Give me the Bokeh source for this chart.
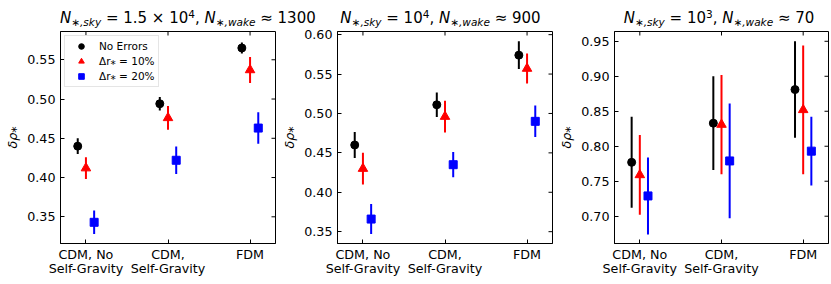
import numpy as np
from bokeh.plotting import figure
from bokeh.layouts import row, column
from bokeh.models import (Range1d, FixedTicker, Legend, LegendItem, Div,
                          ColumnDataSource, PrintfTickFormatter)
from bokeh.embed import file_html
from bokeh.resources import INLINE

# ---------------- data ----------------
categories = ["CDM, No\nSelf-Gravity", "CDM,\nSelf-Gravity", "FDM"]
cat_pos = [0, 1, 2]
series_names = ["No Errors", "Δr⁎ = 10%", "Δr⁎ = 20%"]
series_offsets = [-0.1, 0.0, 0.1]
series_colors = ["#000000", "#ff0000", "#0000ff"]
series_markers = ["circle", "triangle", "square"]
series_sizes = [8, 9.5, 8]

# panel 1: N_sky = 1.5e4, N_wake ~ 1300
p1_none = [0.440, 0.494, 0.565]
p1_none_err = [0.010, 0.0085, 0.007]
p1_r10 = [0.412, 0.476, 0.537]
p1_r10_err = [0.014, 0.015, 0.0165]
p1_r20 = [0.343, 0.422, 0.463]
p1_r20_err = [0.015, 0.0175, 0.020]

# panel 2: N_sky = 1e4, N_wake ~ 900
p2_none = [0.460, 0.511, 0.574]
p2_none_err = [0.0165, 0.0155, 0.0175]
p2_r10 = [0.430, 0.496, 0.557]
p2_r10_err = [0.020, 0.020, 0.019]
p2_r20 = [0.366, 0.435, 0.490]
p2_r20_err = [0.019, 0.016, 0.020]

# panel 3: N_sky = 1e3, N_wake ~ 70
p3_none = [0.777, 0.833, 0.881]
p3_none_err = [0.065, 0.067, 0.069]
p3_r10 = [0.759, 0.831, 0.852]
p3_r10_err = [0.057, 0.071, 0.092]
p3_r20 = [0.729, 0.779, 0.793]
p3_r20_err = [0.055, 0.082, 0.049]

y_ranges = [(0.316, 0.586), (0.335, 0.604), (0.661, 0.964)]
y_ticks = [[0.35, 0.40, 0.45, 0.50, 0.55],
           [0.35, 0.40, 0.45, 0.50, 0.55, 0.60],
           [0.70, 0.75, 0.80, 0.85, 0.90, 0.95]]
sky_mantissa = ["1.5 × ", "", ""]
sky_exponent = ["4", "4", "3"]
wake_values = ["1300", "900", "70"]
y_label = "δρ⁎"

X_RANGE = (-0.31, 2.31)
FONT = "DejaVu Sans"
FRAME_H = 212
TITLE_H = 25
TOP_B = 6
BOTTOM_B = 36


def make_title(i, left, right, fw):
    W = left + fw + right
    sub = "font-size:70%;font-style:italic;vertical-align:-3px;line-height:0;"
    sup = "font-size:70%;vertical-align:5px;line-height:0;"
    html = (
        f'<div style="margin-left:{left}px;width:{fw}px;text-align:center;'
        f'font-family:\'{FONT}\';font-size:15px;line-height:18px;padding-top:9px;'
        f'white-space:nowrap;color:#000;">'
        f'<i>N</i><span style="{sub}">∗,sky</span> = {sky_mantissa[i]}10'
        f'<span style="{sup}">{sky_exponent[i]}</span>, '
        f'<i>N</i><span style="{sub}">∗,wake</span> ≈ {wake_values[i]}</div>'
    )
    return Div(text=html, width=W, height=TITLE_H, margin=0,
               styles={"overflow": "visible"})


def make_panel(i, vals, errs, left, right, fw, with_legend):
    yr = y_ranges[i]
    p = figure(frame_width=fw, frame_height=FRAME_H,
               x_range=Range1d(*X_RANGE), y_range=Range1d(*yr),
               output_backend="svg", toolbar_location=None,
               min_border_left=left, min_border_right=right,
               min_border_top=TOP_B, min_border_bottom=BOTTOM_B)
    p.xgrid.visible = False
    p.ygrid.visible = False
    p.outline_line_color = "black"
    p.outline_line_width = 1
    p.outline_line_alpha = 1
    p.background_fill_color = "white"
    p.border_fill_color = None

    xa = p.xaxis[0]
    xa.ticker = FixedTicker(ticks=cat_pos)
    xa.major_label_overrides = {c: lab for c, lab in zip(cat_pos, categories)}
    ya = p.yaxis[0]
    ya.ticker = FixedTicker(ticks=y_ticks[i])
    ya.formatter = PrintfTickFormatter(format="%.2f")
    for ax in (xa, ya):
        ax.major_tick_in = 4
        ax.major_tick_out = 0
        ax.minor_tick_line_color = None
        ax.axis_line_color = "black"
        ax.major_tick_line_color = "black"
        ax.major_label_text_font = FONT
        ax.major_label_text_font_size = "12.7px"
        ax.major_label_text_color = "black"
    xa.major_label_standoff = 3
    xa.major_label_text_line_height = 0.95
    ya.major_label_standoff = 5
    ya.axis_label = y_label
    ya.axis_label_text_font = FONT
    ya.axis_label_text_font_size = "12.7px"
    ya.axis_label_text_font_style = "italic"
    ya.axis_label_text_color = "black"
    ya.axis_label_standoff = 4

    # mirrored inward tick marks on top and right (half of each dash is clipped by the frame)
    p.scatter(x=cat_pos, y=[yr[1]] * len(cat_pos), marker="dash", angle=np.pi / 2,
              size=8, line_color="black", line_width=1)
    p.scatter(x=[X_RANGE[1]] * len(y_ticks[i]), y=y_ticks[i], marker="dash",
              size=8, line_color="black", line_width=1)

    rends = []
    bars = []
    for k in range(3):
        x = np.array(cat_pos, dtype=float) + series_offsets[k]
        y = np.array(vals[k])
        e = np.array(errs[k])
        src = ColumnDataSource(dict(x=x, y=y, lo=y - e, hi=y + e))
        p.segment(x0="x", y0="lo", x1="x", y1="hi", source=src,
                  line_color=series_colors[k], line_width=2)
        r = p.scatter(x="x", y="y", source=src, marker=series_markers[k],
                      size=series_sizes[k], color=series_colors[k])
        rends.append(r)
        if with_legend:
            # legend-only glyph: short vertical error bar behind the marker
            b = p.scatter(x=[], y=[], marker="dash", angle=np.pi / 2, size=11,
                          line_color=series_colors[k], line_width=2)
            bars.append(b)

    if with_legend:
        leg = Legend(items=[LegendItem(label=series_names[k], renderers=[bars[k], rends[k]])
                            for k in range(3)],
                     location="top_left", margin=4, padding=3, spacing=1,
                     glyph_width=26, glyph_height=14, label_height=14, label_standoff=5,
                     label_text_font=FONT, label_text_font_size="10.5px",
                     label_text_color="black",
                     border_line_color="#cccccc", border_line_width=1,
                     background_fill_alpha=0.8)
        p.add_layout(leg)
    return p


specs = [(60, 4, 215), (54, 4, 215), (56, 5, 214)]
all_vals = [[p1_none, p1_r10, p1_r20], [p2_none, p2_r10, p2_r20], [p3_none, p3_r10, p3_r20]]
all_errs = [[p1_none_err, p1_r10_err, p1_r20_err], [p2_none_err, p2_r10_err, p2_r20_err],
            [p3_none_err, p3_r10_err, p3_r20_err]]
cols = []
for i, (l, r, fw) in enumerate(specs):
    t = make_title(i, l, r, fw)
    p = make_panel(i, all_vals[i], all_errs[i], l, r, fw, i == 0)
    cols.append(column(t, p, spacing=0))

layout = row(*cols, spacing=0)
open("out.html", "w").write(file_html(layout, INLINE))
